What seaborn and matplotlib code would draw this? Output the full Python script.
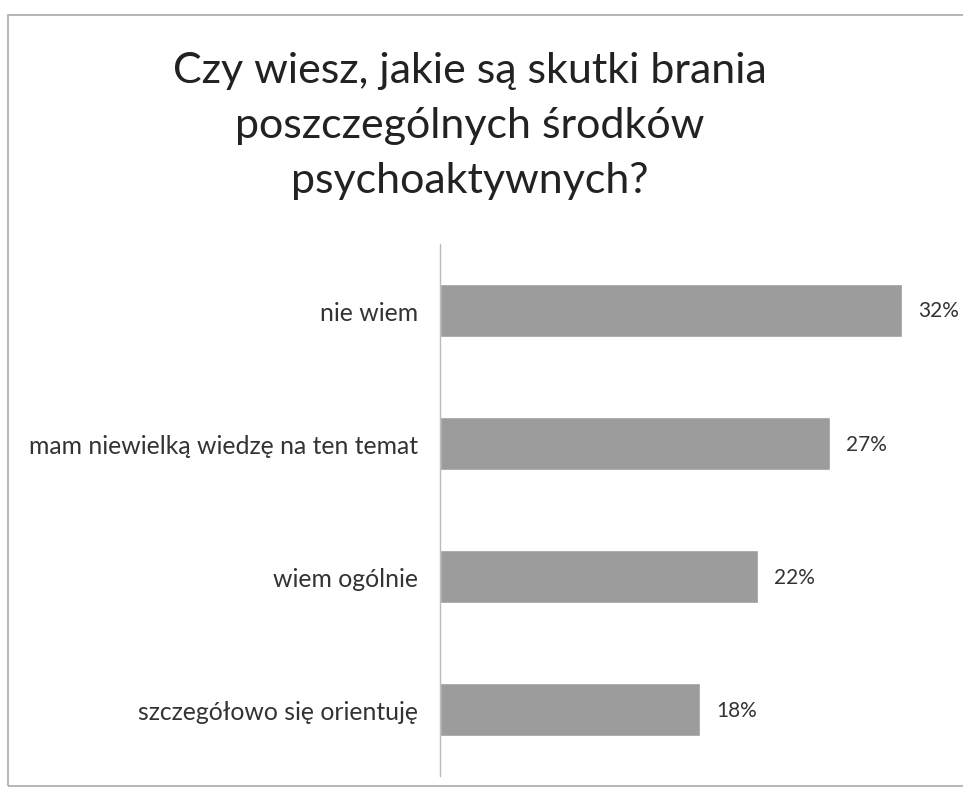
import matplotlib
matplotlib.use("Agg")
import matplotlib.pyplot as plt
import seaborn as sns
import pandas as pd
from matplotlib.patches import Rectangle

# data
categories = ["nie wiem", "mam niewielką wiedzę na ten temat",
              "wiem ogólnie", "szczegółowo się orientuję"]
shares = [0.32, 0.27, 0.22, 0.18]
value_labels = ["32%", "27%", "22%", "18%"]

title = "Czy wiesz, jakie są skutki brania\nposzczególnych środków\npsychoaktywnych?"

sns.set_style("white")
plt.rcParams['font.family'] = ['Lato', 'DejaVu Sans']

df = pd.DataFrame({"kategoria": categories, "udzial": shares})

fig = plt.figure(figsize=(9.63, 8.03), dpi=100)
ax = fig.add_axes([0.457, 0.032, 0.525, 0.663])

sns.barplot(data=df, x="udzial", y="kategoria", color="#9c9c9c",
            saturation=1, width=0.4, ax=ax, order=categories)

ax.set_xlim(0, 0.35)
ax.set_ylim(3.5, -0.5)
ax.set_xlabel("")
ax.set_ylabel("")
ax.set_xticks([])
ax.tick_params(axis="y", length=0, pad=16, labelsize=17.8, labelcolor="#333333")

for s in ["top", "right", "bottom"]:
    ax.spines[s].set_visible(False)
ax.spines["left"].set_color("#bbbbbb")
ax.spines["left"].set_linewidth(1)

for i, (v, lab) in enumerate(zip(shares, value_labels)):
    ax.text(v + 0.011, i, lab, va="center", ha="left", fontsize=15, color="#333333")

fig.text(0.488, 0.935, title, ha="center", va="top", fontsize=31,
         color="#222222", linespacing=1.55)

# frame of the scanned chart
fig.patches.append(Rectangle((0.008, 0.02), 1.2, 0.96, transform=fig.transFigure,
                             fill=False, edgecolor="#aaaaaa", linewidth=1.2))

fig.savefig("out.png", dpi=100, facecolor="white")
